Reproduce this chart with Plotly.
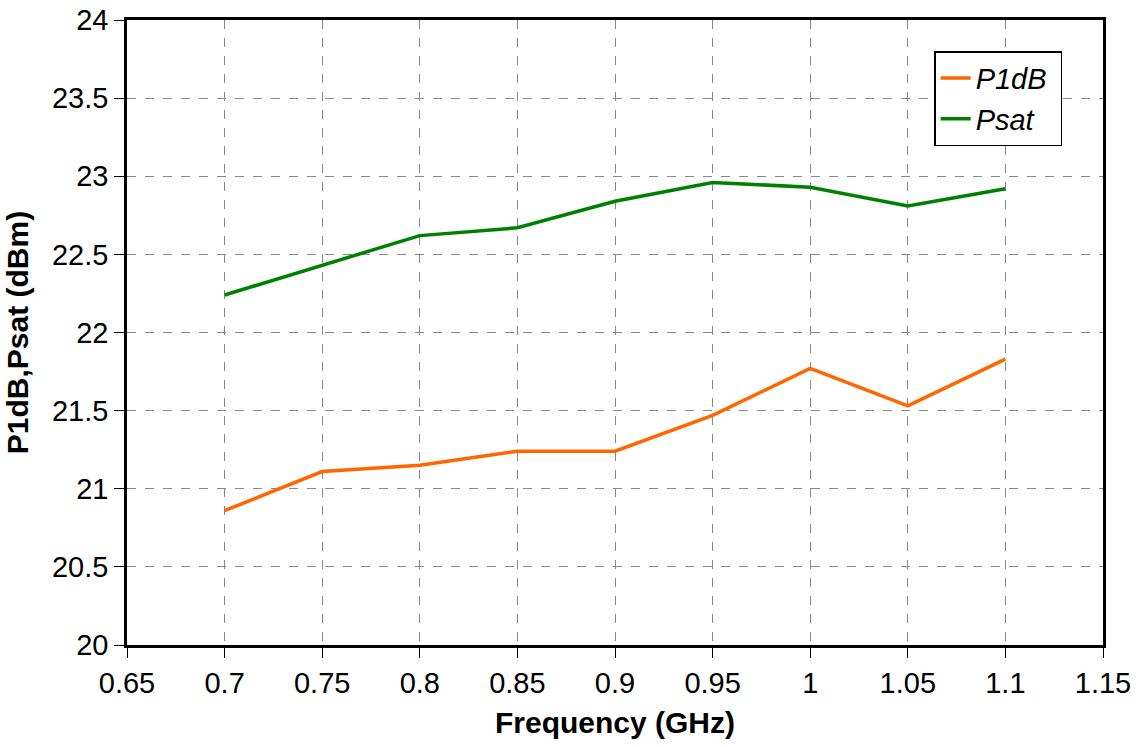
import plotly.graph_objects as go

freq = [0.7, 0.75, 0.8, 0.85, 0.9, 0.95, 1.0, 1.05, 1.1]
p1db = [20.86, 21.11, 21.15, 21.24, 21.24, 21.47, 21.77, 21.53, 21.83]
psat = [22.24, 22.43, 22.62, 22.67, 22.84, 22.96, 22.93, 22.81, 22.92]

x_ticks = [0.65, 0.7, 0.75, 0.8, 0.85, 0.9, 0.95, 1.0, 1.05, 1.1, 1.15]
x_labels = ["0.65", "0.7", "0.75", "0.8", "0.85", "0.9", "0.95", "1", "1.05", "1.1", "1.15"]
y_ticks = [20, 20.5, 21, 21.5, 22, 22.5, 23, 23.5, 24]
y_labels = ["20", "20.5", "21", "21.5", "22", "22.5", "23", "23.5", "24"]

FONT = "Liberation Sans, Arial, sans-serif"

fig = go.Figure()
fig.add_trace(go.Scatter(x=freq, y=p1db, mode="lines", name="<i>P1dB</i> ",
                         line=dict(color="#FF6600", width=3.5)))
fig.add_trace(go.Scatter(x=freq, y=psat, mode="lines", name="<i>Psat</i>",
                         line=dict(color="#008000", width=3.5)))

axis_common = dict(
    showline=True, linecolor="black", linewidth=2.5, mirror=True,
    ticks="outside", ticklen=10, tickcolor="black", tickwidth=1,
    showgrid=True, gridcolor="#888888", gridwidth=1, griddash="dash",
    zeroline=False, tickfont=dict(family=FONT, size=29, color="black"),
    automargin=False,
)

fig.update_layout(
    width=1142, height=747,
    margin=dict(l=127, r=39, t=20, b=102),
    paper_bgcolor="white", plot_bgcolor="white",
    font=dict(family=FONT, color="black"),
    xaxis=dict(range=[0.65, 1.15], tickvals=x_ticks, ticktext=x_labels,
               title=dict(text="<b>Frequency (GHz)</b>", font=dict(family=FONT, size=30)),
               **axis_common),
    yaxis=dict(range=[20, 24], tickvals=y_ticks, ticktext=y_labels,
               title=dict(text="<b>P1dB,Psat (dBm)</b>", font=dict(family=FONT, size=30)),
               **axis_common),
    legend=dict(x=0.827, y=0.95, xanchor="left", yanchor="top",
                bgcolor="white", bordercolor="black", borderwidth=1.5,
                font=dict(family=FONT, size=29, color="black"),
                tracegroupgap=0),
    showlegend=True,
)

fig.write_html("out.html", config={"displayModeBar": False},
               post_script="document.body.style.margin='0';")
